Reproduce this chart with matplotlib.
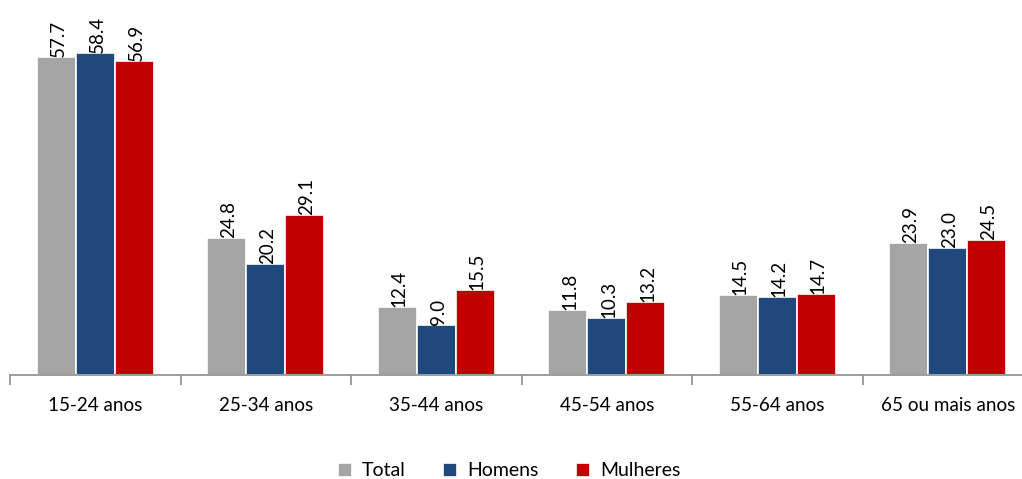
import matplotlib
matplotlib.use("Agg")
import matplotlib.pyplot as plt
import numpy as np

categories = ["15-24 anos", "25-34 anos", "35-44 anos", "45-54 anos", "55-64 anos", "65 ou mais anos"]
series_names = ["Total", "Homens", "Mulheres"]
total = [57.7, 24.8, 12.4, 11.8, 14.5, 23.9]
homens = [58.4, 20.2, 9.0, 10.3, 14.2, 23.0]
mulheres = [56.9, 29.1, 15.5, 13.2, 14.7, 24.5]
colors = ["#A5A5A5", "#1F497D", "#C00000"]

plt.rcParams['font.family'] = ['Lato', 'DejaVu Sans']

fig = plt.figure(figsize=(10.22, 4.79), dpi=100)
ax = fig.add_axes([10/1022, 1-375/479, 6*170.5/1022, 375/479])

x = np.arange(len(categories))
w = 0.228
for i, (vals, name, c) in enumerate(zip([total, homens, mulheres], series_names, colors)):
    pos = x + (i - 1) * w
    ax.bar(pos, vals, width=w, color=c, edgecolor="white", linewidth=1.2, label=name)
    for p, v in zip(pos, vals):
        ax.text(p + 0.012, v, f"{v:.1f}", rotation=90, ha="center", va="bottom", fontsize=13.5, color="black")

ax.set_xlim(-0.5, 5.5)
ax.set_ylim(0, 68)
for s in ["top", "right", "left"]:
    ax.spines[s].set_visible(False)
ax.spines["bottom"].set_color("#8C8C8C")
ax.spines["bottom"].set_linewidth(1.2)
ax.set_yticks([])
ax.set_xticks(np.arange(-0.5, 6.0, 1.0))
ax.set_xticklabels([])
ax.tick_params(axis="x", which="major", direction="out", length=7, color="#8C8C8C", width=1.2)
ax.set_xticks(x, minor=True)
ax.set_xticklabels(categories, minor=True, fontsize=13.6)
ax.tick_params(axis="x", which="minor", length=0, pad=16)

handles, labels = ax.get_legend_handles_labels()
fig.legend(handles, labels, loc="center", bbox_to_anchor=(509/1022, 1-471/479), ncol=3,
           frameon=False, fontsize=14, handlelength=0.75, handleheight=0.75, handletextpad=0.5,
           columnspacing=1.9)

fig.savefig("out.png", dpi=100)
